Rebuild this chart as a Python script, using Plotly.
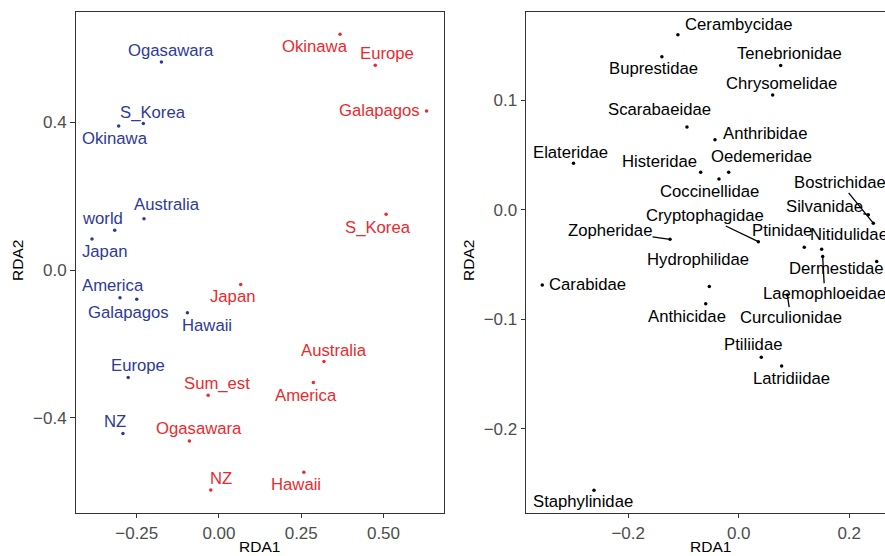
import plotly.graph_objects as go

# ---------------- data ----------------
blue_names = ["Ogasawara", "S_Korea", "Okinawa", "Australia", "world", "Japan",
              "America", "Galapagos", "Hawaii", "Europe", "NZ"]
blue_x = [-0.175, -0.230, -0.305, -0.228, -0.317, -0.386, -0.301, -0.250, -0.096, -0.276, -0.292]
blue_y = [0.564, 0.397, 0.390, 0.139, 0.108, 0.084, -0.075, -0.079, -0.116, -0.291, -0.443]

red_names = ["Okinawa", "Europe", "Galapagos", "S_Korea", "Japan", "Australia",
             "America", "Sum_est", "Ogasawara", "NZ", "Hawaii"]
red_x = [0.368, 0.475, 0.631, 0.508, 0.066, 0.319, 0.287, -0.033, -0.090, -0.025, 0.258]
red_y = [0.639, 0.555, 0.431, 0.151, -0.039, -0.248, -0.305, -0.339, -0.463, -0.596, -0.548]

sp_names = ["Cerambycidae", "Buprestidae", "Tenebrionidae", "Chrysomelidae", "Scarabaeidae",
            "Anthribidae", "Elateridae", "Histeridae", "Oedemeridae", "Coccinellidae",
            "Bostrichidae", "Silvanidae", "Nitidulidae", "Ptinidae", "Cryptophagidae",
            "Zopheridae", "Dermestidae", "Laemophloeidae", "Hydrophilidae", "Carabidae",
            "Anthicidae", "Curculionidae", "Ptiliidae", "Latridiidae", "Staphylinidae"]
sp_x = [-0.110, -0.139, 0.076, 0.0615, -0.0936, -0.0429, -0.299, -0.0688, -0.0181, -0.0357,
        0.2436, 0.2346, 0.1502, 0.1187, 0.0355, -0.1243, 0.2498, 0.152, -0.0532, -0.3555,
        -0.0597, 0.088, 0.0409, 0.0778, -0.2619]
sp_y = [0.160, 0.140, 0.132, 0.105, 0.0758, 0.0642, 0.0426, 0.0344, 0.0344, 0.0283,
        -0.0121, -0.0043, -0.0359, -0.0341, -0.029, -0.0268, -0.0472, -0.0426, -0.070, -0.0685,
        -0.0856, -0.0776, -0.1345, -0.1425, -0.256]

x_ticks_left = [-0.25, 0.0, 0.25, 0.50]
x_ticktext_left = ["\u22120.25", "0.00", "0.25", "0.50"]
y_ticks_left = [-0.4, 0.0, 0.4]
y_ticktext_left = ["\u22120.4", "0.0", "0.4"]
x_ticks_right = [-0.2, 0.0, 0.2]
x_ticktext_right = ["\u22120.2", "0.0", "0.2"]
y_ticks_right = [-0.2, -0.1, 0.0, 0.1]
y_ticktext_right = ["\u22120.2", "\u22120.1", "0.0", "0.1"]

# label placement offsets (pixels; dx right, dy down) -- repel-style layout
blue_dx = [9.4, 9.4, -4, 22.7, -12.7, 12.3, -6.7, -8.7, 19.4, 9.7, -7.7]
blue_dy = [-11, -11.4, 12, -14.7, -11.7, 12.7, -12, 13, 12.3, -11.6, -11.6]
red_dx = [-24.7, 12, -46.7, -8.3, -8.4, 9.7, -7.6, 9.3, 9.7, 10, -8]
red_dy = [12.4, -11.3, 0, 12.7, 12.4, -11.3, 12.7, -11.3, -12, -11.3, 12.4]
sp_dx = [61.3, -8.7, 9.3, 9, -27.7, 50, -2.6, -40.7, 33, -9,
         -32.8, -43.9, 27.5, -21.9, -53.3, -60, -40.1, 2, -11, 45.4,
         -19, 3.4, -8.6, 10, -10.7]
sp_dy = [-10.7, 12.3, -12, -11.7, -17, -6.4, -11.3, -11, -15.6, 12.7,
         -40.3, -8, -14.3, -16.6, -25.7, -8.6, 7.3, 36.6, -27.4, 0,
         13, 22.3, -12.3, 12.3, 11.4]
sp_seg = [False, False, False, False, False, False, False, False, False, False,
          True, True, False, False, True, True, False, True, False, False,
          False, True, False, False, False]

BLUE = "#2E3A98"
RED = "#EC2A2E"
FONT = "Liberation Sans, Arial, Helvetica, sans-serif"
LABEL_SIZE = 16.7

W, H = 885, 556
fig = go.Figure()

fig.add_trace(go.Scatter(x=blue_x, y=blue_y, mode="markers", marker=dict(color=BLUE, size=3.5),
                         xaxis="x", yaxis="y", hoverinfo="text", text=blue_names))
fig.add_trace(go.Scatter(x=red_x, y=red_y, mode="markers", marker=dict(color=RED, size=3.5),
                         xaxis="x", yaxis="y", hoverinfo="text", text=red_names))
fig.add_trace(go.Scatter(x=sp_x, y=sp_y, mode="markers", marker=dict(color="black", size=3.5),
                         xaxis="x2", yaxis="y2", hoverinfo="text", text=sp_names))

ann = []
def add_labels(names, xs, ys, dxs, dys, color, xr, yr, segs=None):
    for i, n in enumerate(names):
        seg = segs[i] if segs else False
        if seg:
            ann.append(dict(x=xs[i], y=ys[i], xref=xr, yref=yr, text=n, showarrow=True,
                            arrowhead=0, arrowwidth=1.3, arrowcolor=color, ax=dxs[i], ay=dys[i],
                            standoff=0, borderpad=0,
                            font=dict(family=FONT, size=LABEL_SIZE, color=color)))
        else:
            ann.append(dict(x=xs[i], y=ys[i], xref=xr, yref=yr, text=n, showarrow=False,
                            xshift=dxs[i], yshift=-dys[i], xanchor="center", yanchor="middle",
                            font=dict(family=FONT, size=LABEL_SIZE, color=color)))

add_labels(blue_names, blue_x, blue_y, blue_dx, blue_dy, BLUE, "x", "y")
add_labels(red_names, red_x, red_y, red_dx, red_dy, RED, "x", "y")
add_labels(sp_names, sp_x, sp_y, sp_dx, sp_dy, "black", "x2", "y2", sp_seg)

title_font = dict(family=FONT, size=15.5, color="black")
ann.append(dict(text="RDA1", x=259.9 / W, y=1 - 546.5 / H, xref="paper", yref="paper",
                showarrow=False, font=title_font, xanchor="center", yanchor="middle"))
ann.append(dict(text="RDA1", x=710 / W, y=1 - 546.5 / H, xref="paper", yref="paper",
                showarrow=False, font=title_font, xanchor="center", yanchor="middle"))
ann.append(dict(text="RDA2", x=17 / W, y=1 - 261 / H, xref="paper", yref="paper", textangle=-90,
                showarrow=False, font=title_font, xanchor="center", yanchor="middle"))
ann.append(dict(text="RDA2", x=468 / W, y=1 - 261 / H, xref="paper", yref="paper", textangle=-90,
                showarrow=False, font=title_font, xanchor="center", yanchor="middle"))

ydom = [(H - 512.5) / H, (H - 11.7) / H]
axis_common = dict(showgrid=False, zeroline=False, showline=True, linecolor="#333333", linewidth=1.3,
                   ticks="outside", ticklen=4.5, tickwidth=1.2, tickcolor="#333333",
                   tickfont=dict(family=FONT, size=17, color="#4D4D4D"), tickmode="array")

fig.update_layout(
    width=W, height=H, margin=dict(l=0, r=0, t=0, b=0),
    paper_bgcolor="white", plot_bgcolor="white", showlegend=False,
    xaxis=dict(domain=[75.7 / W, 444 / W], range=[-0.4356, 0.684], anchor="y", mirror=True,
               tickvals=x_ticks_left, ticktext=x_ticktext_left, **axis_common),
    yaxis=dict(domain=ydom, range=[-0.657, 0.700], anchor="x", mirror=True,
               tickvals=y_ticks_left, ticktext=y_ticktext_left, **axis_common),
    xaxis2=dict(domain=[526.3 / W, 1.0], range=[-0.3844, 0.2648], anchor="y2", mirror=True,
                tickvals=x_ticks_right, ticktext=x_ticktext_right, **axis_common),
    yaxis2=dict(domain=ydom, range=[-0.2764, 0.1811], anchor="x2", mirror=False,
                tickvals=y_ticks_right, ticktext=y_ticktext_right, **axis_common),
    annotations=ann,
)

fig.write_html("out.html", config={"responsive": False, "displayModeBar": False},
               post_script="document.body.style.margin='0';document.body.style.overflow='hidden';")
